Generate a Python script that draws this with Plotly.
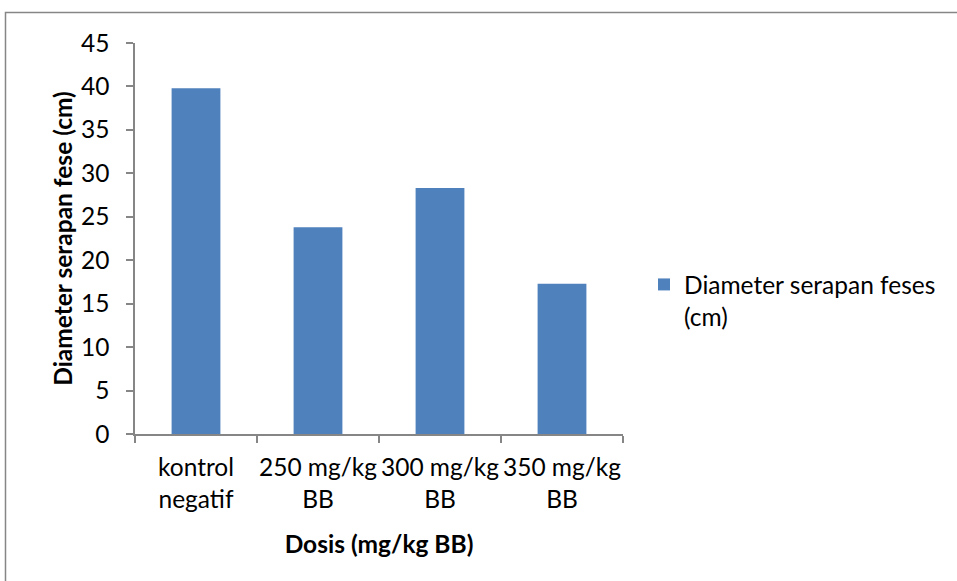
import plotly.graph_objects as go

categories = ["kontrol<br>negatif", "250 mg/kg<br>BB", "300 mg/kg<br>BB", "350 mg/kg<br>BB"]
values = [39.8, 23.8, 28.3, 17.3]
series_name = "Diameter serapan feses<br>(cm)"
y_ticks = [0, 5, 10, 15, 20, 25, 30, 35, 40, 45]

FONT = "Lato, 'Open Sans', sans-serif"
FS = 24.5
W, H = 957, 581
L, R, T, B = 135, 623, 43, 434

fig = go.Figure()
fig.add_trace(go.Bar(
    x=categories, y=values, name=series_name,
    marker=dict(color="#4F81BD", line=dict(width=0)),
    showlegend=True,
))

def px_x(px):
    return (px - L) / (R - L)

def px_y(py):
    return (B - py) / (B - T)

fig.update_layout(
    width=W, height=H,
    margin=dict(l=L, r=W - R, t=T, b=H - B, pad=0),
    paper_bgcolor="white", plot_bgcolor="white",
    font=dict(family=FONT, size=FS, color="black"),
    bargap=0.6,
    showlegend=True,
    legend=dict(x=px_x(644), y=px_y(262), xanchor="left", yanchor="top",
                font=dict(family=FONT, size=FS, color="black"),
                bgcolor="rgba(0,0,0,0)", itemwidth=30, tracegroupgap=0,
                valign="top"),
    xaxis=dict(
        showline=True, linecolor="#868686", linewidth=1.5,
        ticks="outside", ticklen=7, tickcolor="#868686", tickwidth=1.5,
        tickson="boundaries", showgrid=False, tickangle=0,
        ticklabelstandoff=11,
        title=dict(text="<b>Dosis (mg/kg BB)</b>", font=dict(family=FONT, size=FS), standoff=24),
        tickfont=dict(family=FONT, size=FS),
    ),
    yaxis=dict(
        range=[0, 45], tickvals=y_ticks,
        showline=True, linecolor="#868686", linewidth=1.5,
        ticks="outside", ticklen=7, tickcolor="#868686", tickwidth=1.5,
        showgrid=False, zeroline=False,
        ticklabelstandoff=12,
        title=dict(text="<b>Diameter serapan fese (cm)</b>", font=dict(family=FONT, size=FS), standoff=1),
        tickfont=dict(family=FONT, size=FS),
    ),
    shapes=[dict(type="rect", xref="paper", yref="paper",
                 x0=px_x(5.5), x1=px_x(990), y0=px_y(620), y1=px_y(12.5),
                 line=dict(color="#868686", width=1.5), layer="below")],
)

fig.write_html("out.html")
